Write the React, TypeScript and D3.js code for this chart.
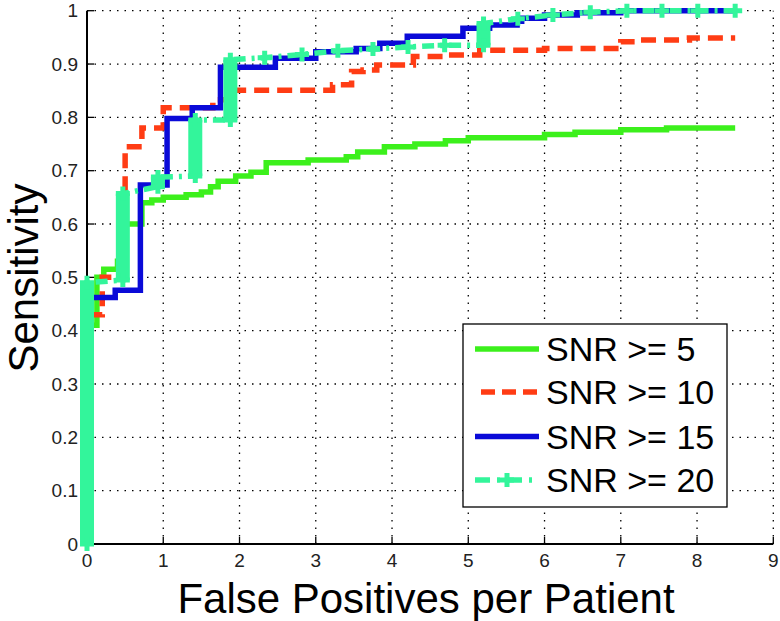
import React from "react";
import * as d3 from "d3";

const xTickValues = [0, 1, 2, 3, 4, 5, 6, 7, 8, 9];
const xTickLabels = ["0", "1", "2", "3", "4", "5", "6", "7", "8", "9"];
const yTickValues = [0, 0.1, 0.2, 0.3, 0.4, 0.5, 0.6, 0.7, 0.8, 0.9, 1];
const yTickLabels = ["0", "0.1", "0.2", "0.3", "0.4", "0.5", "0.6", "0.7", "0.8", "0.9", "1"];

const seriesNames = ["SNR >= 5", "SNR >= 10", "SNR >= 15", "SNR >= 20"];

// step vertices (x, sensitivity), drawn step-after
const snr5: [number, number][] = [
  [0, 0], [0, 0.41], [0.13, 0.5], [0.22, 0.515], [0.4, 0.53], [0.47, 0.6],
  [0.72, 0.64], [0.85, 0.645], [1.0, 0.65], [1.3, 0.655], [1.5, 0.66],
  [1.62, 0.67], [1.72, 0.68], [1.95, 0.69], [2.15, 0.697], [2.35, 0.715],
  [2.9, 0.72], [3.4, 0.726], [3.55, 0.735], [3.9, 0.745], [4.3, 0.75],
  [4.7, 0.756], [5.0, 0.762], [6.0, 0.768], [6.4, 0.772], [7.0, 0.777],
  [7.6, 0.78], [8.5, 0.78],
];
const snr10: [number, number][] = [
  [0, 0], [0, 0.43], [0.2, 0.5], [0.5, 0.745], [0.72, 0.78], [1.0, 0.818],
  [1.65, 0.833], [1.85, 0.851], [3.22, 0.861], [3.47, 0.886], [3.62, 0.889],
  [3.8, 0.898], [4.28, 0.914], [4.7, 0.917], [5.15, 0.926], [6.0, 0.929],
  [7.0, 0.942], [7.25, 0.945], [7.9, 0.949], [8.5, 0.949],
];
const snr15: [number, number][] = [
  [0, 0], [0, 0.462], [0.37, 0.476], [0.7, 0.673], [1.05, 0.798], [1.38, 0.818],
  [1.75, 0.894], [2.47, 0.911], [3.0, 0.923], [3.53, 0.929], [3.84, 0.939],
  [4.2, 0.952], [4.93, 0.967], [5.28, 0.973], [5.64, 0.98], [5.7, 0.986],
  [6.0, 0.992], [6.43, 0.996], [7.0, 1.0], [8.5, 1.0],
];
// SNR >= 20: [x, sensitivity from, sensitivity to] (columns of stacked points)
const snr20: [number, number, number][] = [
  [0, 0, 0.49], [0.47, 0.495, 0.657], [0.93, 0.67, 0.688], [1.42, 0.69, 0.795],
  [1.88, 0.795, 0.908], [2.33, 0.912, 0.912], [2.82, 0.918, 0.918],
  [3.29, 0.925, 0.925], [3.75, 0.928, 0.928], [4.21, 0.932, 0.932],
  [4.69, 0.935, 0.935], [5.2, 0.935, 0.976], [5.65, 0.985, 0.985],
  [6.11, 0.992, 0.992], [6.6, 0.997, 0.997], [7.08, 1, 1], [7.54, 1, 1],
  [8.01, 1, 1], [8.5, 1, 1],
];

const W = 780;
const H = 621;
const GREEN = "#3cf01c";
const RED = "#ff3c14";
const BLUE = "#0a0ad8";
const SEA = "#33f59b";
const FONT = "'Liberation Sans', Arial, Helvetica, sans-serif";

const plusPath = "M-7,0H7M0,-7V7";

export default function App() {
  const x = d3.scaleLinear().domain([0, 9]).range([87, 773.3]);
  const y = d3.scaleLinear().domain([0, 1]).range([544, 10.7]);

  const stepLine = d3
    .line<[number, number]>()
    .x((d) => x(d[0]))
    .y((d) => y(d[1]))
    .curve(d3.curveStepAfter);

  const seaPoints: [number, number][] = [];
  snr20.forEach(([vx, a, b]) => {
    seaPoints.push([vx, a]);
    if (b !== a) seaPoints.push([vx, b]);
  });
  const linLine = d3
    .line<[number, number]>()
    .x((d) => x(d[0]))
    .y((d) => y(d[1]));

  const lw = 5.5;

  const legendX = 463;
  const legendY = 324;
  const legendW = 264;
  const legendH = 183;
  const rowY = [349, 392, 436.5, 480];
  const sampleX0 = 475;
  const sampleX1 = 539;

  return (
    <svg
      width={W}
      height={H}
      viewBox={`0 0 ${W} ${H}`}
      style={{ position: "absolute", left: 0, top: 0, background: "#fff" }}
    >
      <rect x={0} y={0} width={W} height={H} fill="#fff" />
      {/* grid */}
      <g stroke="#000" strokeWidth={1.3} strokeDasharray="1.5,6" fill="none">
        {xTickValues.slice(1).map((v) => (
          <line key={"gx" + v} x1={x(v)} x2={x(v)} y1={y(0)} y2={y(1)} />
        ))}
        {yTickValues.slice(1).map((v) => (
          <line key={"gy" + v} x1={x(0)} x2={x(9)} y1={y(v)} y2={y(v)} />
        ))}
      </g>
      {/* ticks */}
      <g stroke="#000" strokeWidth={1.3}>
        {xTickValues.map((v) => (
          <line key={"tx" + v} x1={x(v)} x2={x(v)} y1={y(0)} y2={y(0) - 7} />
        ))}
        {yTickValues.map((v) => (
          <line key={"ty" + v} x1={x(0)} x2={x(0) + 7} y1={y(v)} y2={y(v)} />
        ))}
      </g>
      {/* axes */}
      <line x1={x(0)} x2={x(0)} y1={y(0)} y2={y(1)} stroke="#000" strokeWidth={2} />
      <line x1={x(0)} x2={x(9)} y1={y(0)} y2={y(0)} stroke="#000" strokeWidth={2} />
      {/* curves */}
      <g fill="none" strokeLinejoin="miter">
        <path d={stepLine(snr5) || ""} stroke={GREEN} strokeWidth={lw} />
        <path d={stepLine(snr10) || ""} stroke={RED} strokeWidth={lw} strokeDasharray="15,8" />
        <path d={stepLine(snr15) || ""} stroke={BLUE} strokeWidth={lw} />
        <path d={linLine(seaPoints) || ""} stroke={SEA} strokeWidth={lw} strokeDasharray="12,6,3,6" />
      </g>
      <g>
        {snr20.map(([vx, a, b], i) =>
          b !== a ? (
            <rect
              key={"bar" + i}
              x={x(vx) - 7}
              y={y(b)}
              width={14}
              height={y(a) - y(b)}
              fill={SEA}
            />
          ) : null
        )}
        {seaPoints.map(([vx, vy], i) => (
          <path
            key={"pm" + i}
            d={plusPath}
            transform={`translate(${x(vx)},${y(vy)})`}
            stroke={SEA}
            strokeWidth={5}
            fill="none"
          />
        ))}
      </g>
      {/* tick labels */}
      <g fontFamily={FONT} fontSize={19} fill="#222">
        {xTickValues.map((v, i) => (
          <text key={"lx" + v} x={x(v)} y={567} textAnchor="middle">
            {xTickLabels[i]}
          </text>
        ))}
        {yTickValues.map((v, i) => (
          <text key={"ly" + v} x={78} y={y(v)} textAnchor="end" dominantBaseline="central">
            {yTickLabels[i]}
          </text>
        ))}
      </g>
      {/* axis titles */}
      <text x={426} y={613} textAnchor="middle" fontFamily={FONT} fontSize={42} fill="#000">
        False Positives per Patient
      </text>
      <text
        transform="translate(38,278) rotate(-90)"
        textAnchor="middle"
        fontFamily={FONT}
        fontSize={42}
        fill="#000"
      >
        Sensitivity
      </text>
      {/* legend */}
      <g>
        <rect x={legendX} y={legendY} width={legendW} height={legendH} fill="#fff" stroke="#000" strokeWidth={1.3} />
        <line x1={sampleX0} x2={sampleX1} y1={rowY[0]} y2={rowY[0]} stroke={GREEN} strokeWidth={lw} />
        <line x1={sampleX0} x2={sampleX1} y1={rowY[1]} y2={rowY[1]} stroke={RED} strokeWidth={lw} strokeDasharray="14,7" strokeDashoffset={-6} />
        <line x1={sampleX0} x2={sampleX1} y1={rowY[2]} y2={rowY[2]} stroke={BLUE} strokeWidth={lw} />
        <line x1={sampleX0} x2={sampleX1} y1={rowY[3]} y2={rowY[3]} stroke={SEA} strokeWidth={lw} strokeDasharray="15,7,3,7" />
        <path d={plusPath} transform={`translate(${(sampleX0 + sampleX1) / 2},${rowY[3]})`} stroke={SEA} strokeWidth={5} fill="none" />
        {seriesNames.map((n, i) => (
          <text key={n} x={546} y={rowY[i]} dominantBaseline="central" fontFamily={FONT} fontSize={34} fill="#000">
            {n}
          </text>
        ))}
      </g>
    </svg>
  );
}
